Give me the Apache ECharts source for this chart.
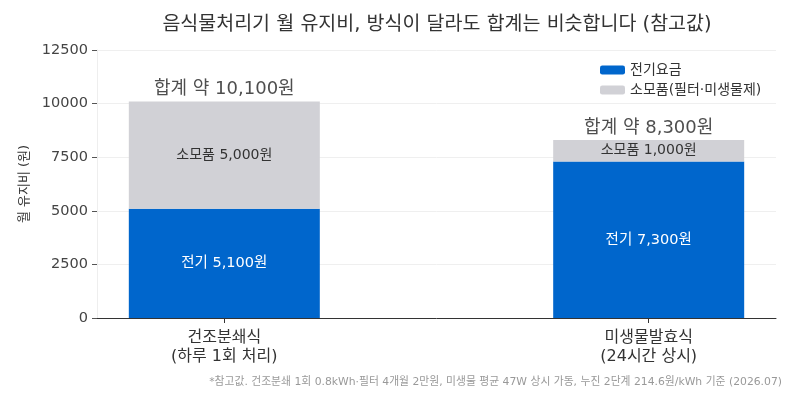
<!DOCTYPE html>
<html>
<head>
<meta charset="utf-8">
<script src="https://cdn.jsdelivr.net/npm/echarts@6/dist/echarts.min.js"></script>
<style>
html,body{margin:0;padding:0;background:#fff;}
#c{width:790px;height:400px;}
</style>
</head>
<body>
<div id="c"></div>
<script>
var categories = ['건조분쇄식\n(하루 1회 처리)', '미생물발효식\n(24시간 상시)'];
var electricity = [5100, 7300];
var consumables = [5000, 1000];
var seriesNames = ['전기요금', '소모품(필터·미생물제)'];
var yTicks = [0, 2500, 5000, 7500, 10000, 12500];
var totals = [10100, 8300];

function fmt(n){ return n.toLocaleString('en-US'); }

var font = '"DejaVu Sans", "Noto Sans CJK KR", sans-serif';
var chart = echarts.init(document.getElementById('c'));
chart.setOption({
  animation: false,
  textStyle: { fontFamily: font },
  title: {
    text: '음식물처리기 월 유지비, 방식이 달라도 합계는 비슷합니다 (참고값)',
    left: 432, top: 10, textAlign: 'center',
    textStyle: { fontFamily: font, fontSize: 19.5, fontWeight: 'normal', color: '#333' }
  },
  legend: {
    orient: 'vertical', left: 595, top: 58, itemWidth: 25, itemHeight: 9, itemGap: 6,
    textStyle: { fontFamily: font, fontSize: 14, color: '#333' },
    data: seriesNames
  },
  grid: { left: 97, right: 14, top: 50, bottom: 82 },
  xAxis: {
    type: 'value', min: -0.3, max: 1.3,
    axisLine: { show: true, lineStyle: { color: '#333', width: 1 } },
    axisTick: { show: true, customValues: [0, 1], length: 5, lineStyle: { color: '#333' } },
    axisLabel: {
      customValues: [0, 1], fontFamily: font, fontSize: 16, color: '#333', lineHeight: 19, margin: 10,
      formatter: function(v){ return categories[Math.round(v)]; }
    },
    splitLine: { show: false }
  },
  yAxis: {
    type: 'value', min: 0, max: 12500, interval: 2500,
    name: '월 유지비 (원)', nameLocation: 'middle', nameGap: 65, nameRotate: 90,
    nameTextStyle: { fontFamily: font, fontSize: 13, color: '#333' },
    axisLine: { show: true, onZero: false, lineStyle: { color: '#eeeeee' } },
    axisTick: { show: true, length: 5, lineStyle: { color: '#555' } },
    axisLabel: { fontFamily: font, fontSize: 14.5, color: '#444', margin: 9,
      formatter: function(v){ return String(v); } },
    splitLine: { show: true, lineStyle: { color: '#efefef' } }
  },
  series: [
    {
      name: seriesNames[0], type: 'bar', stack: 'a', barWidth: 191,
      encode: { x: 1, y: 0 },
      itemStyle: { color: '#0066cc' },
      label: { show: true, position: 'inside', fontFamily: font, fontSize: 14.5, color: '#fff',
        formatter: function(p){ return '전기 ' + fmt(p.value[0]) + '원'; } },
      data: electricity.map(function(v, i){ return [v, i]; })
    },
    {
      name: seriesNames[1], type: 'bar', stack: 'a', barWidth: 191,
      encode: { x: 1, y: 0 },
      itemStyle: { color: '#d1d1d6' },
      label: { show: true, position: 'inside', fontFamily: font, fontSize: 14, color: '#333',
        formatter: function(p){ return '소모품 ' + fmt(p.value[0]) + '원'; } },
      data: consumables.map(function(v, i){ return [v, i]; })
    },
    {
      type: 'scatter', symbolSize: 0, silent: true,
      label: { show: true, position: 'top', distance: 3, fontFamily: font, fontSize: 18, color: '#222',
        formatter: function(p){ return '합계 약 ' + fmt(p.value[1]) + '원'; } },
      data: totals.map(function(v, i){ return [i, v]; })
    }
  ],
  graphic: [{
    type: 'text', right: 8, top: 377,
    style: { text: '*참고값. 건조분쇄 1회 0.8kWh·필터 4개월 2만원, 미생물 평균 47W 상시 가동, 누진 2단계 214.6원/kWh 기준 (2026.07)',
      fontFamily: font, fontSize: 10.8, fill: '#999' }
  }]
});
</script>
</body>
</html>
